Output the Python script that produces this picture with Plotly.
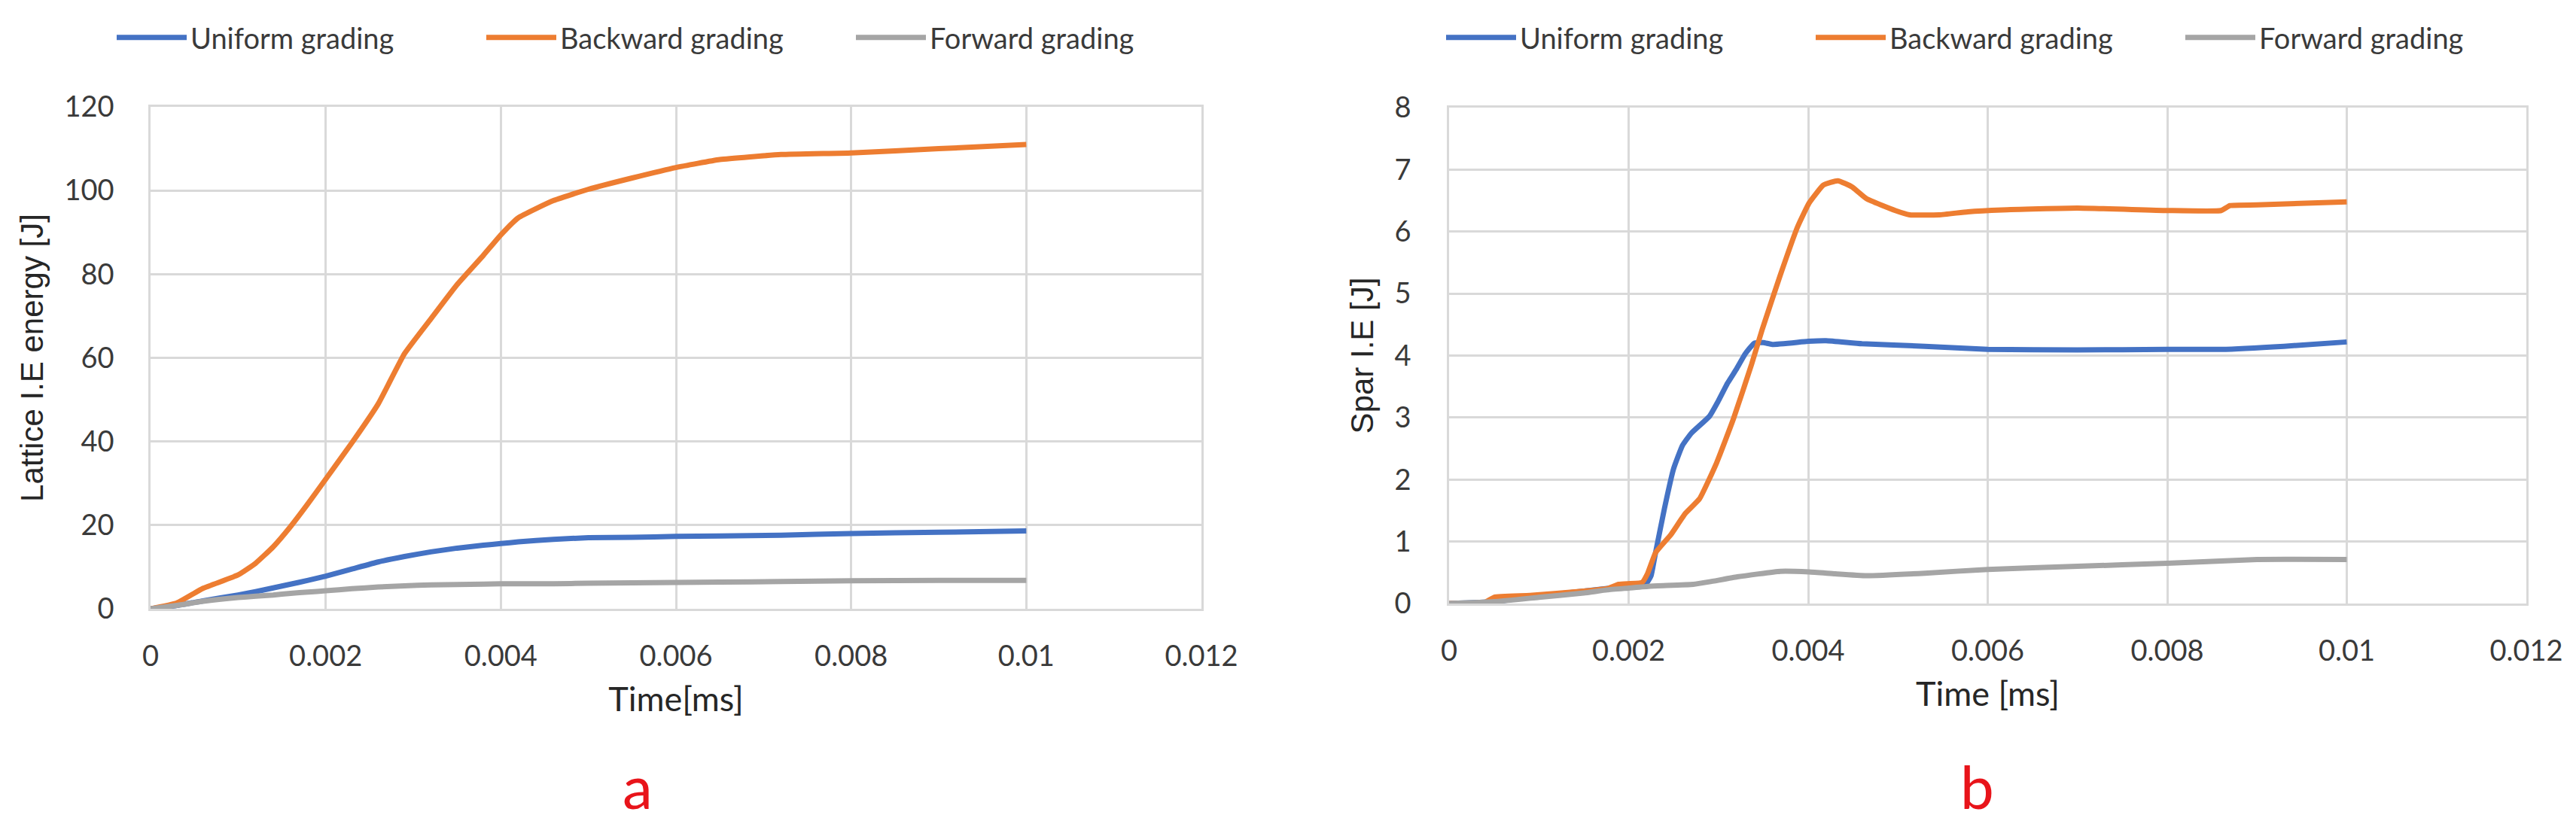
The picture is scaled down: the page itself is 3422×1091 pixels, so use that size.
import plotly.graph_objects as go

# ---- panel a : lattice internal energy ----
time_a = [0, 0.0003, 0.0006, 0.001, 0.0012, 0.0014, 0.0016, 0.0018, 0.002, 0.0023,
          0.0026, 0.0029, 0.0032, 0.0035, 0.0038, 0.004, 0.0042, 0.0046, 0.005, 0.0055,
          0.006, 0.0065, 0.0072, 0.008, 0.009, 0.01]
uniform_a = [0, 0.8, 1.9, 3.3, 4.1, 5.0, 5.9, 6.8, 7.8, 9.5,
             11.2, 12.5, 13.6, 14.5, 15.2, 15.6, 16.0, 16.6, 17.0, 17.1,
             17.3, 17.4, 17.6, 18.0, 18.3, 18.6]
backward_a = [0, 1.4, 4.9, 8.1, 10.9, 14.8, 19.7, 25.2, 31.0, 39.7,
              49.0, 61.0, 69.3, 77.5, 84.5, 89.4, 93.5, 97.6, 100.3, 103.0,
              105.5, 107.4, 108.6, 109.0, 110.0, 111.0]
forward_a = [0, 0.8, 1.8, 2.7, 3.0, 3.3, 3.7, 4.0, 4.3, 4.8,
             5.2, 5.5, 5.7, 5.8, 5.9, 6.0, 6.0, 6.0, 6.1, 6.2,
             6.3, 6.4, 6.5, 6.7, 6.8, 6.8]

# ---- panel b : spar internal energy ----
time_uniform_b = [0, 0.0005, 0.001, 0.0015, 0.0018, 0.0021, 0.0022, 0.00225, 0.0023, 0.0024,
                  0.0025, 0.0026, 0.0027, 0.0029, 0.003, 0.0031, 0.0032, 0.0033, 0.0034, 0.0035,
                  0.0036, 0.004, 0.0042, 0.0046, 0.0053, 0.006, 0.007, 0.008, 0.0086, 0.0093, 0.01]
uniform_b = [0, 0.03, 0.12, 0.2, 0.25, 0.29, 0.33, 0.45, 0.82, 1.54,
             2.17, 2.55, 2.75, 3.02, 3.27, 3.55, 3.78, 4.03, 4.2, 4.21,
             4.18, 4.23, 4.24, 4.19, 4.15, 4.1, 4.09, 4.1, 4.1, 4.15, 4.22]

time_backward_b = [0, 0.0004, 0.0005, 0.0009, 0.0015, 0.00176, 0.00189, 0.00215, 0.00221, 0.0023,
                   0.00247, 0.00263, 0.00279, 0.00298, 0.00317, 0.00337, 0.00349, 0.00369, 0.00388, 0.00401,
                   0.00417, 0.00433, 0.00449, 0.00465, 0.00497, 0.00513, 0.00546, 0.00578, 0.00616, 0.007,
                   0.008, 0.0086, 0.0087, 0.009, 0.01]
backward_b = [0, 0.02, 0.1, 0.13, 0.2, 0.24, 0.31, 0.34, 0.48, 0.82,
              1.11, 1.45, 1.69, 2.27, 2.99, 3.86, 4.43, 5.3, 6.07, 6.46,
              6.75, 6.82, 6.72, 6.53, 6.34, 6.27, 6.27, 6.32, 6.35, 6.38,
              6.34, 6.34, 6.42, 6.43, 6.48]

time_forward_b = [0, 0.0005, 0.001, 0.0015, 0.00176, 0.002, 0.00224, 0.00272, 0.0029, 0.00321,
                  0.00369, 0.00401, 0.0043, 0.00465, 0.0053, 0.006, 0.007, 0.008, 0.009, 0.01]
forward_b = [0, 0.03, 0.1, 0.17, 0.22, 0.25, 0.28, 0.31, 0.35, 0.43,
             0.52, 0.51, 0.48, 0.45, 0.49, 0.55, 0.6, 0.65, 0.71, 0.71]

series_names = ["Uniform grading", "Backward grading", "Forward grading"]
series_colors = ["#4472C4", "#ED7D31", "#A5A5A5"]

x_ticks = [0, 0.002, 0.004, 0.006, 0.008, 0.01, 0.012]
x_tick_labels = ["0", "0.002", "0.004", "0.006", "0.008", "0.01", "0.012"]
panel_labels = ["a", "b"]

W, H = 3422, 1091
grid = "#d9d9d9"
tick_font = dict(family="Lato", size=38, color="#3a3a3a")

fig = go.Figure()

panel_a = [(time_a, uniform_a), (time_a, backward_a), (time_a, forward_a)]
panel_b = [(time_uniform_b, uniform_b), (time_backward_b, backward_b), (time_forward_b, forward_b)]

for name, col, (xs, ys) in zip(series_names, series_colors, panel_a):
    fig.add_trace(go.Scatter(x=xs, y=ys, name=name, mode="lines",
                             line=dict(color=col, width=7, shape="spline", smoothing=0.4),
                             xaxis="x", yaxis="y", legend="legend"))
for name, col, (xs, ys) in zip(series_names, series_colors, panel_b):
    fig.add_trace(go.Scatter(x=xs, y=ys, name=name, mode="lines",
                             line=dict(color=col, width=7, shape="spline", smoothing=0.4),
                             xaxis="x2", yaxis="y2", legend="legend2"))

common_axis = dict(showgrid=True, gridcolor=grid, gridwidth=2.5, showline=True,
                   linecolor=grid, linewidth=2.5, mirror=True, zeroline=False,
                   ticks="", tickfont=tick_font, automargin=False)

fig.update_layout(
    width=W, height=H,
    margin=dict(l=0, r=0, t=0, b=0),
    paper_bgcolor="white", plot_bgcolor="white",
    xaxis=dict(domain=[192 / W, 1588 / W], range=[0, 0.012], tickvals=x_ticks,
               ticktext=x_tick_labels, anchor="y", ticklabelstandoff=28,
               title=dict(text="Time[ms]", standoff=22,
                          font=dict(family="Lato", size=45, color="#262626")),
               **common_axis),
    yaxis=dict(domain=[1 - 801 / H, 1 - 134 / H], range=[0, 120], dtick=20, anchor="x",
               ticklabelstandoff=38,
               title=dict(text="Lattice I.E energy [J]", standoff=15,
                          font=dict(family="Liberation Sans", size=42, color="#262626")),
               **common_axis),
    xaxis2=dict(domain=[1917 / W, 3348 / W], range=[0, 0.012], tickvals=x_ticks,
                ticktext=x_tick_labels, anchor="y2", ticklabelstandoff=28,
                title=dict(text="Time [ms]", standoff=22,
                           font=dict(family="Lato", size=45, color="#262626")),
                **common_axis),
    yaxis2=dict(domain=[1 - 794 / H, 1 - 135 / H], range=[0, 8], dtick=1, anchor="x2",
                ticklabelstandoff=40,
                title=dict(text="Spar I.E [J]", standoff=15,
                           font=dict(family="Liberation Sans", size=42, color="#262626")),
                **common_axis),
    legend=dict(orientation="h", x=142 / W, xanchor="left", y=1 - 42 / H, yanchor="middle",
                font=dict(family="Lato", size=38, color="#3a3a3a"),
                itemwidth=93, entrywidth=383, bgcolor="rgba(0,0,0,0)"),
    legend2=dict(orientation="h", x=1908 / W, xanchor="left", y=1 - 42 / H, yanchor="middle",
                 font=dict(family="Lato", size=38, color="#3a3a3a"),
                 itemwidth=93, entrywidth=383, bgcolor="rgba(0,0,0,0)"),
)

for label, xc in zip(panel_labels, [839 / W, 2618 / W]):
    fig.add_annotation(text=label, x=xc, y=1 - 1036 / H, xref="paper", yref="paper",
                       showarrow=False, xanchor="center", yanchor="middle",
                       font=dict(family="Lato", size=80, color="#E8141A"))

fig.write_html("out.html")
